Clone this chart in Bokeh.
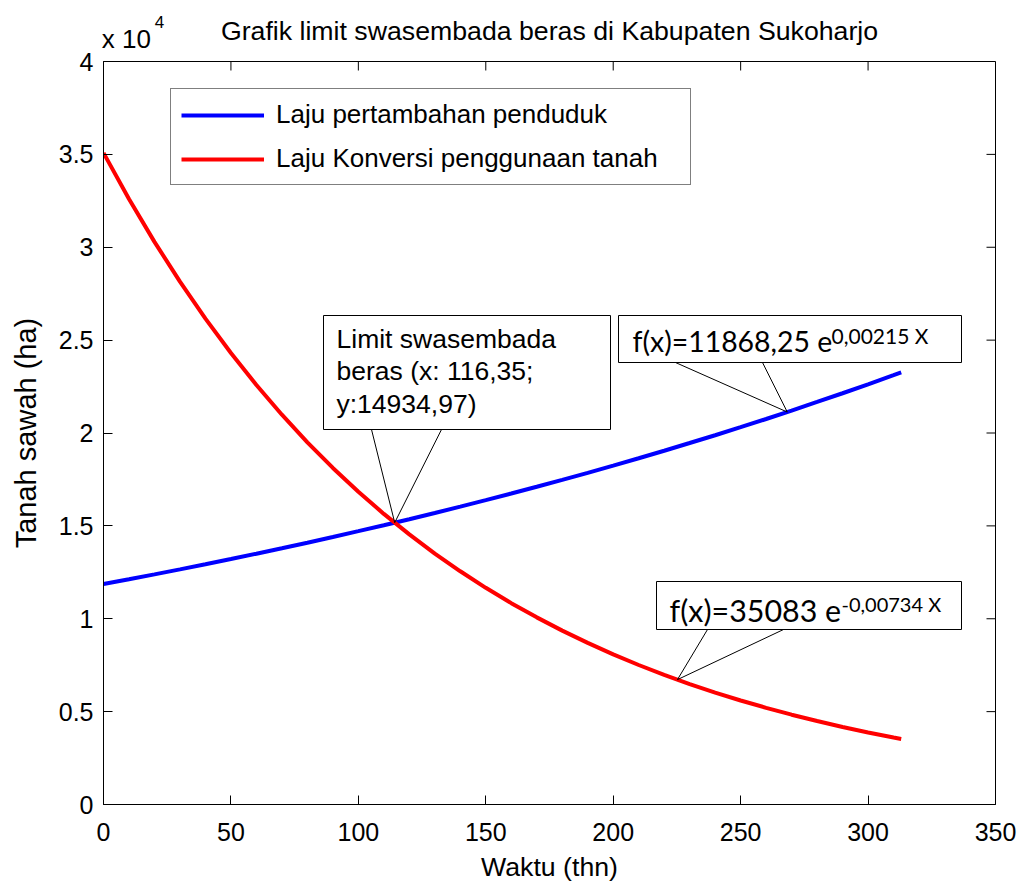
import numpy as np
from bokeh.plotting import figure
from bokeh.models import (Range1d, FixedTicker, Legend, LegendItem, LinearAxis,
                          Label, BoxAnnotation)
from bokeh.embed import file_html
from bokeh.resources import INLINE

# ---------------- data ----------------
waktu = [0, 10, 20, 30, 40, 50, 60, 70, 80, 90, 100, 110, 120, 130, 140, 150,
         160, 170, 180, 190, 200, 210, 220, 230, 240, 250, 260, 270, 280, 290,
         300, 310, 313]
laju_penduduk = [11870, 12125, 12390, 12660, 12935, 13215, 13500, 13795, 14095,
                 14400, 14715, 15035, 15360, 15695, 16035, 16385, 16740, 17105,
                 17475, 17855, 18245, 18640, 19045, 19460, 19880, 20315, 20755,
                 21205, 21670, 22140, 22620, 23110, 23260]
laju_konversi = [35080, 32600, 30290, 28150, 26155, 24305, 22585, 20985, 19500,
                 18120, 16840, 15645, 14540, 13510, 12555, 11665, 10840, 10075,
                 9360, 8700, 8080, 7510, 6980, 6485, 6025, 5600, 5205, 4835,
                 4495, 4175, 3880, 3605, 3525]

series_names = ["Laju pertambahan penduduk", "Laju Konversi penggunaan tanah"]
series_colors = ["#0000FF", "#FF0000"]

x_ticks = [0, 50, 100, 150, 200, 250, 300, 350]
y_ticks = [0, 5000, 10000, 15000, 20000, 25000, 30000, 35000, 40000]
y_tick_labels = ["0", "0.5", "1", "1.5", "2", "2.5", "3", "3.5", "4"]

title_text = "Grafik limit swasembada beras di Kabupaten Sukoharjo"
x_label = "Waktu (thn)"
y_label = "Tanah sawah (ha)"
y_exponent = ("x 10", "4")

limit_lines = ["Limit swasembada", "beras (x: 116,35;", "y:14934,97)"]
fit_blue = ("f(x)=11868,25 e", "0,00215 X")
fit_red = ("f(x)=35083 e", "-0,00734 X")
blue_note_x = 268.3
red_note_x = 225.2

X0, X1 = 0, 350
Y0, Y1 = 0, 40000

# ---------------- figure ----------------
MS = "Liberation Sans"
FL, FR, FT, FB = 103, 995, 61, 804     # frame edges on the page (px)
W, H = 1023, 885

p = figure(width=W, height=H, x_range=Range1d(X0, X1), y_range=Range1d(Y0, Y1),
           output_backend="svg", toolbar_location=None,
           min_border_left=FL, min_border_right=W - FR, min_border_top=FT,
           min_border_bottom=H - FB, background_fill_color="white",
           border_fill_color="white")
p.title.visible = False
p.xgrid.visible = False
p.ygrid.visible = False
p.outline_line_color = "black"
p.outline_line_width = 1

ylabels = {t: l for t, l in zip(y_ticks, y_tick_labels)}
for ax in p.xaxis:
    ax.ticker = FixedTicker(ticks=x_ticks)
for ax in p.yaxis:
    ax.ticker = FixedTicker(ticks=y_ticks)
    ax.major_label_overrides = ylabels

for ax in list(p.xaxis) + list(p.yaxis):
    ax.major_tick_in = 9
    ax.major_tick_out = 0
    ax.minor_tick_in = 0
    ax.minor_tick_out = 0
    ax.axis_line_color = "black"
    ax.major_tick_line_color = "black"
    ax.major_label_text_font = MS
    ax.major_label_text_font_size = "25px"
    ax.major_label_text_color = "black"
    ax.axis_label_text_font = MS
    ax.axis_label_text_font_style = "normal"
    ax.axis_label_text_color = "black"

p.xaxis.axis_label = x_label
p.yaxis.axis_label = y_label
p.xaxis.axis_label_text_font_size = "26.7px"
p.yaxis.axis_label_text_font_size = "29px"
p.xaxis.major_label_standoff = 18
p.xaxis.axis_label_standoff = 8
p.yaxis.major_label_standoff = 10
p.yaxis.axis_label_standoff = 14

# ---- header: "x 10^4" exponent and the chart title (text only, no tick marks) ----
exp_base_x = 9      # centre of "x 10" along the x scale
exp_pow_x = 22      # centre of the superscript


def header_axis(tick, text, size, standoff):
    ax = LinearAxis(ticker=FixedTicker(ticks=[tick]), major_label_overrides={tick: text},
                    major_tick_in=0, major_tick_out=0, minor_tick_in=0, minor_tick_out=0,
                    axis_line_color=None, major_label_standoff=standoff,
                    major_label_text_font=MS, major_label_text_font_size=f"{size}px",
                    major_label_text_color="black")
    return ax


ax_a = header_axis(exp_base_x, y_exponent[0], 26, 8)
ax_b = header_axis(exp_pow_x, y_exponent[1], 17, -7)
ax_b.axis_label = title_text
ax_b.axis_label_text_font = MS
ax_b.axis_label_text_font_size = "26.7px"
ax_b.axis_label_text_font_style = "normal"
ax_b.axis_label_text_color = "black"
ax_b.axis_label_standoff = -33
p.add_layout(ax_a, "above")
p.add_layout(ax_b, "above")

# mirrored inward ticks on the top and right edges of the box
tx = 9 * (X1 - X0) / (FR - FL)
ty = 9 * (Y1 - Y0) / (FB - FT)
p.segment(x0=x_ticks, y0=[Y1] * len(x_ticks), x1=x_ticks, y1=[Y1 - ty] * len(x_ticks),
          line_color="black", line_width=1)
p.segment(x0=[X1] * len(y_ticks), y0=y_ticks, x1=[X1 - tx] * len(y_ticks), y1=y_ticks,
          line_color="black", line_width=1)

# ---------------- curves ----------------
r_blue = p.line(waktu, laju_penduduk, line_color=series_colors[0], line_width=4)
r_red = p.line(waktu, laju_konversi, line_color=series_colors[1], line_width=4)

# ---------------- legend ----------------
legend = Legend(items=[LegendItem(label=series_names[0], renderers=[r_blue]),
                       LegendItem(label=series_names[1], renderers=[r_red])],
                location=(170 - FL, FB - 185), orientation="vertical",
                label_text_font=MS, label_text_font_size="26px", label_text_color="black",
                glyph_width=83, glyph_height=30, label_height=30, label_width=404,
                label_standoff=12, spacing=13, padding=10, margin=0,
                border_line_color="black", border_line_width=1,
                background_fill_color="white", background_fill_alpha=1)
p.add_layout(legend, "center")


# ---------------- annotation helpers (page pixel -> data) ----------------
def dx(px):
    return X0 + (px - FL) / (FR - FL) * (X1 - X0)


def dy(py):
    return Y0 + (FB - py) / (FB - FT) * (Y1 - Y0)


# crossing point of the two curves from the data
wx = np.array(waktu, float)
b = np.array(laju_penduduk, float)
r = np.array(laju_konversi, float)
d = b - r
i = int(np.where(np.sign(d[:-1]) != np.sign(d[1:]))[0][0])
t = d[i] / (d[i] - d[i + 1])
cross_x = wx[i] + t * (wx[i + 1] - wx[i])
cross_y = b[i] + t * (b[i + 1] - b[i])

blue_tip = (blue_note_x, float(np.interp(blue_note_x, wx, b)))
red_tip = (red_note_x, float(np.interp(red_note_x, wx, r)))

# pointers of the callouts
p.line([dx(371), cross_x, dx(441)], [dy(429), cross_y, dy(429)], line_color="black", line_width=1)
p.line([dx(675), blue_tip[0], dx(762)], [dy(362), blue_tip[1], dy(362)], line_color="black", line_width=1)
p.line([dx(707), red_tip[0], dx(783)], [dy(629), red_tip[1], dy(629)], line_color="black", line_width=1)

# callout boxes
for (l, rr, tt, bb) in [(323, 610, 315, 429), (618, 961, 315, 362), (656, 961, 581, 629)]:
    p.add_layout(BoxAnnotation(left=dx(l), right=dx(rr), top=dy(tt), bottom=dy(bb),
                               fill_color="white", fill_alpha=1.0,
                               line_color="black", line_width=1, line_alpha=1.0))


def put(txt, px, py, font, size):
    p.add_layout(Label(x=dx(px), y=dy(py), text=txt, text_font=font,
                       text_font_size=f"{size}px", text_color="black",
                       text_align="left", text_baseline="alphabetic"))


for txt, py in zip(limit_lines, [338, 370, 403]):
    put(txt, 336, py, MS, 26.5)

LT = "Lato"
put(fit_blue[0], 632, 340, LT, 28.4)
put(fit_blue[1], 831, 335, LT, 21)
put(fit_red[0], 669, 609, LT, 30.4)
put(fit_red[1], 841, 603, LT, 20)

open("out.html", "w").write(file_html(p, INLINE))
